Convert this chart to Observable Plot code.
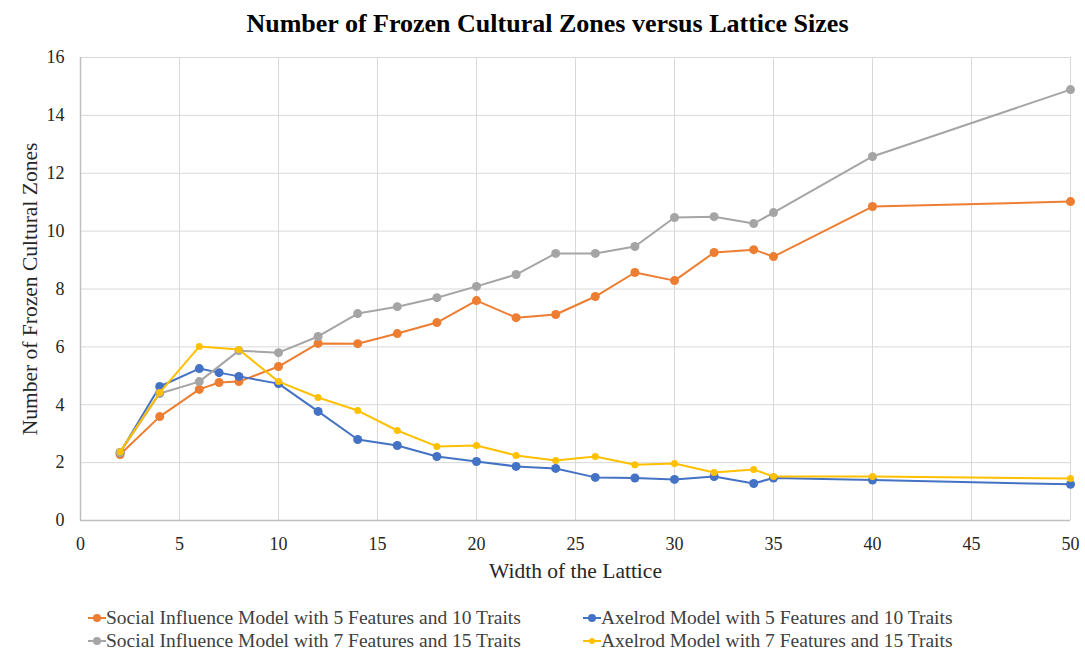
<!DOCTYPE html>
<html>
<head>
<meta charset="utf-8">
<script src="https://cdn.jsdelivr.net/npm/d3@7"></script>
<script src="https://cdn.jsdelivr.net/npm/@observablehq/plot@0.6"></script>
<style>
  body { margin: 0; background: #fff; font-family: "Liberation Serif", "Times New Roman", serif; }
  #wrap { width: 1085px; position: relative; }
  #title { height: 40px; line-height: 48px; text-align: center; font-weight: bold; font-size: 26px; color: #000; padding-left: 10px; font-family: "Liberation Serif", serif; }
  #legend { position: relative; height: 56px; font-size: 19.5px; color: #404040; font-family: "Liberation Serif", serif; }
  .item { position: absolute; display: flex; align-items: center; white-space: nowrap; }
  .item svg { margin-right: 0px; }
  svg text { font-family: "Liberation Serif", serif; }
</style>
</head>
<body>
<div id="wrap">
  <div id="title">Number of Frozen Cultural Zones versus Lattice Sizes</div>
  <div id="chart"></div>
  <div id="legend"></div>
</div>
<script>
const seriesNames = [
  "Social Influence Model with 5 Features and 10 Traits",
  "Axelrod Model with 5 Features and 10 Traits",
  "Social Influence Model with 7 Features and 15 Traits",
  "Axelrod Model with 7 Features and 15 Traits"
];
const seriesColors = ["#ED7D31", "#4472C4", "#A5A5A5", "#FFC000"];

const widthsA = [2, 4, 6, 7, 8, 10, 12, 14, 16, 18, 20, 22, 24, 26, 28, 30, 32, 34, 35, 40, 50];
const widthsB = [2, 4, 6, 8, 10, 12, 14, 16, 18, 20, 22, 24, 26, 28, 30, 32, 34, 35, 40, 50];

const social5x10 = [2.28, 3.59, 4.53, 4.77, 4.80, 5.32, 6.12, 6.11, 6.46, 6.84, 7.60, 7.01, 7.12, 7.74, 8.57, 8.29, 9.26, 9.36, 9.12, 10.85, 11.02];
const axelrod5x10 = [2.35, 4.63, 5.25, 5.11, 4.98, 4.73, 3.77, 2.80, 2.59, 2.21, 2.04, 1.87, 1.80, 1.49, 1.47, 1.42, 1.52, 1.28, 1.47, 1.40, 1.25];
const social7x15 = [2.35, 4.39, 4.80, 5.87, 5.80, 6.36, 7.15, 7.39, 7.70, 8.09, 8.50, 9.23, 9.23, 9.47, 10.47, 10.50, 10.26, 10.64, 12.58, 14.89];
const axelrod7x15 = [2.38, 4.42, 6.01, 5.91, 4.80, 4.25, 3.80, 3.11, 2.56, 2.59, 2.25, 2.07, 2.21, 1.93, 1.97, 1.66, 1.76, 1.52, 1.52, 1.45];

const xTicks = [0, 5, 10, 15, 20, 25, 30, 35, 40, 45, 50];
const yTicks = [0, 2, 4, 6, 8, 10, 12, 14, 16];

const seriesX = [widthsA, widthsA, widthsB, widthsB];
const seriesY = [social5x10, axelrod5x10, social7x15, axelrod7x15];
const dotR = [4.5, 4.5, 4.5, 3.5];

const data = [];
seriesNames.forEach((name, i) => {
  seriesX[i].forEach((x, j) => data.push({series: name, idx: i, x, y: seriesY[i][j]}));
});

const marks = [
  Plot.gridX(xTicks, {stroke: "#d9d9d9", strokeOpacity: 1, strokeWidth: 1}),
  Plot.gridY(yTicks, {stroke: "#d9d9d9", strokeOpacity: 1, strokeWidth: 1}),
  Plot.ruleY([0], {stroke: "#bfbfbf", strokeWidth: 1.5}),
  Plot.ruleX([0], {stroke: "#bfbfbf", strokeWidth: 1.5}),
  Plot.axisX({ticks: xTicks, tickSize: 0, tickPadding: 17, fontSize: 18, color: "#262626",
    label: "Width of the Lattice", labelAnchor: "center", labelArrow: false, labelOffset: 57}),
  Plot.axisY({ticks: yTicks, tickSize: 0, tickPadding: 16, fontSize: 18, color: "#262626",
    label: "Number of Frozen Cultural Zones", labelAnchor: "center", labelArrow: false, labelOffset: 59})
];
seriesNames.forEach((name, i) => {
  const d = data.filter(r => r.idx === i);
  marks.push(Plot.line(d, {x: "x", y: "y", stroke: seriesColors[i], strokeWidth: 2}));
  marks.push(Plot.dot(d, {x: "x", y: "y", fill: seriesColors[i], r: dotR[i], stroke: "none"}));
});

const chart = Plot.plot({
  width: 1085,
  height: 560,
  marginLeft: 80,
  marginRight: 15,
  marginTop: 17,
  marginBottom: 80,
  x: {domain: [0, 50]},
  y: {domain: [0, 16]},
  style: {fontFamily: "'Liberation Serif', 'Times New Roman', serif", background: "#fff", overflow: "visible"},
  marks
});
chart.querySelectorAll("g[aria-label='x-axis label'] text, g[aria-label='y-axis label'] text").forEach(t => {
  t.setAttribute("font-size", "21.5");
  t.setAttribute("fill", "#262626");
});
document.getElementById("chart").appendChild(chart);

// legend
const legend = document.getElementById("legend");
const pos = [[88, 7], [583, 7], [88, 30], [583, 30]];
seriesNames.forEach((name, i) => {
  const div = document.createElement("div");
  div.className = "item";
  div.style.left = pos[i][0] + "px";
  div.style.top = pos[i][1] + "px";
  const s = d3.create("svg").attr("width", 18).attr("height", 14);
  s.append("line").attr("x1", 0).attr("x2", 18).attr("y1", 7).attr("y2", 7).attr("stroke", seriesColors[i]).attr("stroke-width", 2);
  s.append("circle").attr("cx", 9).attr("cy", 7).attr("r", dotR[i] - 0.5).attr("fill", seriesColors[i]);
  div.appendChild(s.node());
  const span = document.createElement("span");
  span.textContent = name;
  div.appendChild(span);
  legend.appendChild(div);
});
</script>
</body>
</html>
